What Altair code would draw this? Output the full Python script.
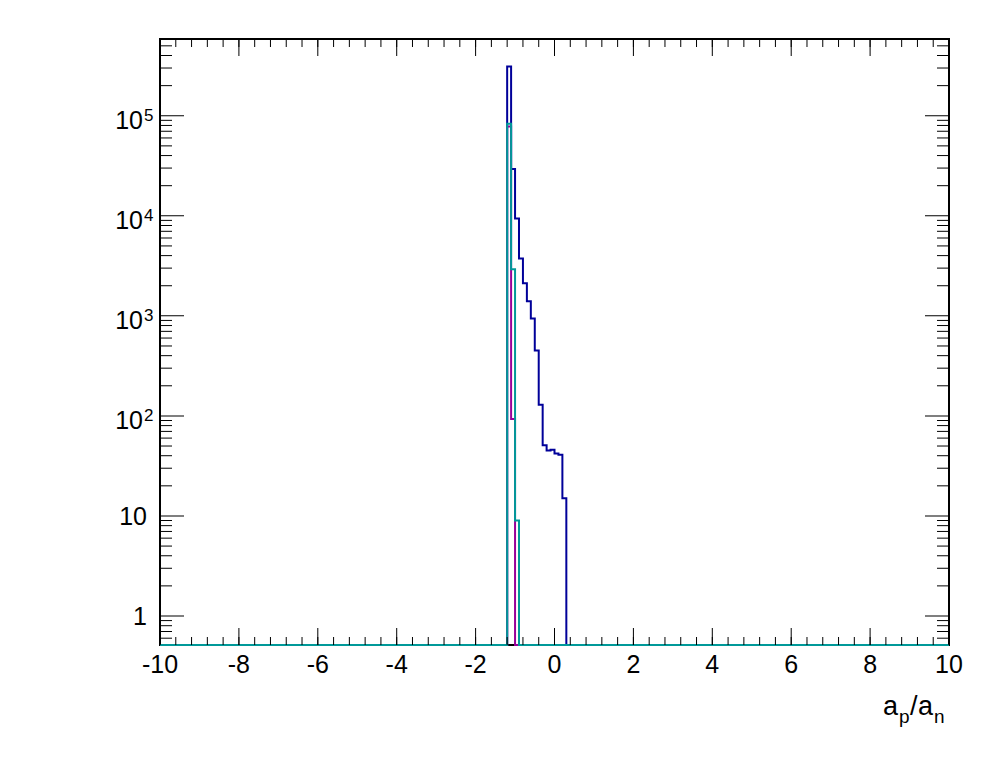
import altair as alt
import numpy as np
import pandas as pd

# ---------------- data ----------------
X_MIN, X_MAX = -10.0, 10.0
BIN_WIDTH = 0.1
Y_MIN, Y_MAX = 0.513, 5.85e5

blue_first_bin = -1.2
blue_counts = [311000, 29300, 9400, 3740, 2120, 1400, 940, 450, 129, 51, 45, 46, 42, 41, 15]
magenta_first_bin = -1.2
magenta_counts = [78000, 93]
teal_first_bin = -1.2
teal_counts = [83000, 2930, 9]

x_major_ticks = [-10, -8, -6, -4, -2, 0, 2, 4, 6, 8, 10]
x_tick_labels = ["-10", "-8", "-6", "-4", "-2", "0", "2", "4", "6", "8", "10"]
x_minor_ticks = [round(-10 + 0.4 * i, 1) for i in range(51)]
y_major_ticks = [1, 10, 100, 1000, 10000, 100000]
y_minor_ticks = [k * 10.0 ** n for n in range(-1, 6) for k in range(2, 10)
                 if Y_MIN <= k * 10.0 ** n <= Y_MAX]

y_plain_labels = pd.DataFrame({"v": [1, 10], "t": ["1", "10"]})
y_power_labels = pd.DataFrame({"v": [100, 1000, 10000, 100000],
                               "base": ["10", "10", "10", "10"],
                               "exp": ["2", "3", "4", "5"]})

# x-axis title a_p/a_n, split into normal text and subscripts
title_pieces = ["a", "p", "/", "a", "n"]

COLORS = {"blue": "#000099", "magenta": "#990099", "teal": "#009999"}
FONT = "Liberation Sans"

W, H = 789, 606

edges = np.round(np.arange(X_MIN, X_MAX + BIN_WIDTH / 2, BIN_WIDTH), 3)


def outline(first, counts):
    vals = np.zeros(len(edges) - 1)
    i0 = int(round((first - X_MIN) / BIN_WIDTH))
    vals[i0:i0 + len(counts)] = counts
    vals = np.where(vals > 0, vals, Y_MIN)
    return pd.DataFrame({"x": edges, "y": np.append(vals, vals[-1])})


xscale = alt.Scale(domain=[X_MIN, X_MAX], nice=False, zero=False)
yscale = alt.Scale(type="log", domain=[Y_MIN, Y_MAX], nice=False)


def hist_layer(df, color):
    return alt.Chart(df).mark_line(interpolate="step-after", strokeWidth=2,
                                   color=color).encode(
        x=alt.X("x:Q", scale=xscale, axis=None),
        y=alt.Y("y:Q", scale=yscale, axis=None),
    )


blue = hist_layer(outline(blue_first_bin, blue_counts), COLORS["blue"])
magenta = hist_layer(outline(magenta_first_bin, magenta_counts), COLORS["magenta"])
teal = hist_layer(outline(teal_first_bin, teal_counts), COLORS["teal"])


def x_ticks(vals, length, edge):
    df = pd.DataFrame({"v": vals, "e": [edge] * len(vals)})
    return alt.Chart(df).mark_tick(
        orient="vertical", size=2 * length, thickness=1, color="black",
        opacity=1, clip=True).encode(
        x=alt.X("v:Q", scale=xscale, axis=None),
        y=alt.Y("e:Q", scale=yscale, axis=None),
    )


def y_ticks(vals, length, edge):
    df = pd.DataFrame({"v": vals, "e": [edge] * len(vals)})
    return alt.Chart(df).mark_tick(
        orient="horizontal", size=2 * length, thickness=1, color="black",
        opacity=1, clip=True).encode(
        y=alt.Y("v:Q", scale=yscale, axis=None),
        x=alt.X("e:Q", scale=xscale, axis=None),
    )


ticks = [
    x_ticks(x_major_ticks, 17, Y_MIN), x_ticks(x_major_ticks, 17, Y_MAX),
    x_ticks(x_minor_ticks, 8, Y_MIN), x_ticks(x_minor_ticks, 8, Y_MAX),
    y_ticks(y_major_ticks, 24, X_MIN), y_ticks(y_major_ticks, 24, X_MAX),
    y_ticks(y_minor_ticks, 12, X_MIN), y_ticks(y_minor_ticks, 12, X_MAX),
]

# x tick labels, anchored on the bottom edge of the frame
x_lbl_df = pd.DataFrame({"v": x_major_ticks, "t": x_tick_labels,
                         "e": [Y_MIN] * len(x_major_ticks)})
x_labels = alt.Chart(x_lbl_df).mark_text(
    align="center", baseline="alphabetic", dy=28, fontSize=25, font=FONT,
    color="black").encode(
    x=alt.X("v:Q", scale=xscale, axis=None),
    y=alt.Y("e:Q", scale=yscale, axis=None),
    text="t:N")

plain_lbl = alt.Chart(y_plain_labels).mark_text(
    align="right", baseline="alphabetic", dy=9, fontSize=25, font=FONT,
    color="black").encode(
    y=alt.Y("v:Q", scale=yscale, axis=None), x=alt.value(-13), text="t:N")

power_base = alt.Chart(y_power_labels).mark_text(
    align="right", baseline="alphabetic", dy=13, fontSize=25, font=FONT,
    color="black").encode(
    y=alt.Y("v:Q", scale=yscale, axis=None), x=alt.value(-17), text="base:N")

power_exp = alt.Chart(y_power_labels).mark_text(
    align="left", baseline="alphabetic", dy=5, fontSize=17, font=FONT,
    color="black").encode(
    y=alt.Y("v:Q", scale=yscale, axis=None), x=alt.value(-16), text="exp:N")

# title pieces anchored at the bottom-right corner of the frame
title_style = [(27, -66, 70), (19, -50, 78), (27, -39, 70), (27, -31, 70), (19, -15, 78)]


def title_piece(i):
    size, dx, dy = title_style[i]
    df = pd.DataFrame({"t": [title_pieces[i]], "x": [X_MAX], "y": [Y_MIN]})
    return alt.Chart(df).mark_text(
        align="left", baseline="alphabetic", fontSize=size, font=FONT,
        dx=dx, dy=dy, color="black").encode(
        x=alt.X("x:Q", scale=xscale, axis=None),
        y=alt.Y("y:Q", scale=yscale, axis=None),
        text="t:N")


title_layers = [title_piece(i) for i in range(len(title_pieces))]

chart = alt.layer(blue, magenta, teal, *ticks, x_labels, plain_lbl, power_base,
                  power_exp, *title_layers).properties(
    width=W, height=H,
    autosize=alt.AutoSizeParams(type="none"),
    padding={"left": 152, "top": 31, "right": 40, "bottom": 100},
    background="white",
).configure_view(stroke="black", strokeWidth=2)

chart.save("out.html", embed_options={"renderer": "svg", "actions": False})
